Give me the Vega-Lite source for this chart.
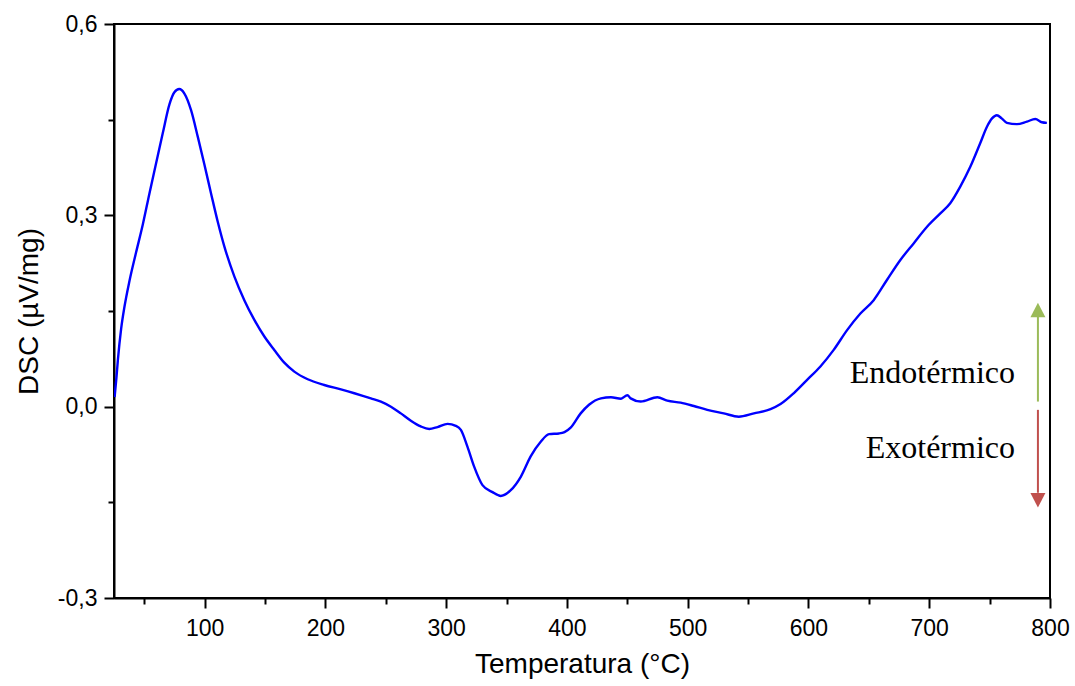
{
  "$schema": "https://vega.github.io/schema/vega-lite/v6.json",
  "width": 936,
  "height": 574,
  "autosize": {"type": "none"},
  "padding": {"left": 114, "top": 24, "right": 25, "bottom": 88},
  "background": "white",
  "config": {
    "view": {"stroke": "black", "strokeWidth": 2},
    "axis": {
      "labelFont": "Liberation Sans",
      "titleFont": "Liberation Sans",
      "labelFontSize": 23,
      "titleFontSize": 28,
      "domainColor": "black",
      "tickColor": "black",
      "labelColor": "black",
      "titleColor": "black",
      "grid": false,
      "titleFontWeight": "normal"
    }
  },
  "datasets": {
    "curve": [
      {"t": 25.5, "dsc": 0.015}, {"t": 27, "dsc": 0.045}, {"t": 28.2, "dsc": 0.073},
      {"t": 30.9, "dsc": 0.122}, {"t": 33.7, "dsc": 0.157}, {"t": 37.8, "dsc": 0.197},
      {"t": 43.3, "dsc": 0.242}, {"t": 48.9, "dsc": 0.286}, {"t": 54.3, "dsc": 0.334},
      {"t": 59.9, "dsc": 0.382}, {"t": 65.4, "dsc": 0.429}, {"t": 70.9, "dsc": 0.474},
      {"t": 75, "dsc": 0.493}, {"t": 79, "dsc": 0.498}, {"t": 83.3, "dsc": 0.491},
      {"t": 88.8, "dsc": 0.465}, {"t": 94.4, "dsc": 0.423}, {"t": 99.8, "dsc": 0.38},
      {"t": 105.4, "dsc": 0.334}, {"t": 110.9, "dsc": 0.29}, {"t": 116.4, "dsc": 0.251},
      {"t": 124.7, "dsc": 0.204}, {"t": 132.9, "dsc": 0.167}, {"t": 141.2, "dsc": 0.136},
      {"t": 149.5, "dsc": 0.11}, {"t": 157.7, "dsc": 0.089}, {"t": 166, "dsc": 0.069},
      {"t": 174.3, "dsc": 0.055}, {"t": 185.4, "dsc": 0.043}, {"t": 199.1, "dsc": 0.034},
      {"t": 212.9, "dsc": 0.027}, {"t": 224, "dsc": 0.021}, {"t": 231, "dsc": 0.017},
      {"t": 237.7, "dsc": 0.013}, {"t": 246, "dsc": 0.008}, {"t": 254.3, "dsc": 0.0},
      {"t": 262.5, "dsc": -0.0105}, {"t": 270.8, "dsc": -0.022}, {"t": 279, "dsc": -0.031},
      {"t": 286, "dsc": -0.035}, {"t": 292.9, "dsc": -0.032}, {"t": 301.2, "dsc": -0.027},
      {"t": 308, "dsc": -0.03}, {"t": 312.2, "dsc": -0.0365}, {"t": 317.7, "dsc": -0.063},
      {"t": 323.2, "dsc": -0.094}, {"t": 330.1, "dsc": -0.123}, {"t": 338.4, "dsc": -0.134},
      {"t": 345.2, "dsc": -0.14}, {"t": 353.5, "dsc": -0.131}, {"t": 361.8, "dsc": -0.11},
      {"t": 370, "dsc": -0.078}, {"t": 378.3, "dsc": -0.055}, {"t": 385.2, "dsc": -0.043},
      {"t": 393.5, "dsc": -0.042}, {"t": 398, "dsc": -0.04}, {"t": 403.1, "dsc": -0.033},
      {"t": 411.4, "dsc": -0.0105}, {"t": 418.3, "dsc": 0.003}, {"t": 428.2, "dsc": 0.013},
      {"t": 436.5, "dsc": 0.0147}, {"t": 444.8, "dsc": 0.0125}, {"t": 450.1, "dsc": 0.018},
      {"t": 452.8, "dsc": 0.013}, {"t": 461.1, "dsc": 0.008}, {"t": 474.9, "dsc": 0.0147},
      {"t": 483.1, "dsc": 0.0094}, {"t": 494.2, "dsc": 0.0063}, {"t": 505.1, "dsc": 0.001},
      {"t": 516.2, "dsc": -0.005}, {"t": 529.9, "dsc": -0.0105}, {"t": 542.3, "dsc": -0.0157},
      {"t": 554.8, "dsc": -0.0105}, {"t": 568.6, "dsc": -0.004}, {"t": 576.9, "dsc": 0.004},
      {"t": 587.8, "dsc": 0.021}, {"t": 598.9, "dsc": 0.042}, {"t": 609.9, "dsc": 0.063},
      {"t": 620.9, "dsc": 0.089}, {"t": 632, "dsc": 0.12}, {"t": 643, "dsc": 0.146},
      {"t": 654, "dsc": 0.167}, {"t": 665.1, "dsc": 0.199}, {"t": 676.1, "dsc": 0.23},
      {"t": 687.1, "dsc": 0.256}, {"t": 698.2, "dsc": 0.282}, {"t": 709.2, "dsc": 0.303},
      {"t": 717.4, "dsc": 0.319}, {"t": 725.7, "dsc": 0.345}, {"t": 734, "dsc": 0.376},
      {"t": 742.2, "dsc": 0.413}, {"t": 747.8, "dsc": 0.439}, {"t": 752, "dsc": 0.452},
      {"t": 756, "dsc": 0.457}, {"t": 760, "dsc": 0.452}, {"t": 764.3, "dsc": 0.445},
      {"t": 772.6, "dsc": 0.443}, {"t": 780.9, "dsc": 0.447}, {"t": 787.8, "dsc": 0.451},
      {"t": 793.3, "dsc": 0.446}, {"t": 797.4, "dsc": 0.445}
    ],
    "arrows": [
      {"x": 790, "from": 0.008, "to": 0.141, "tip": 0.163, "dir": "up"},
      {"x": 790, "from": -0.005, "to": -0.135, "tip": -0.158, "dir": "down"}
    ],
    "labels": [
      {"x": 771, "y": 0.0376, "label": "Endotérmico"},
      {"x": 771, "y": -0.081, "label": "Exotérmico"}
    ]
  },
  "resolve": {"axis": {"x": "independent", "y": "independent"}},
  "layer": [
    {
      "data": {"name": "curve"},
      "mark": {"type": "line", "color": "#0000FF", "strokeWidth": 2.4, "interpolate": "monotone", "clip": true},
      "encoding": {
        "x": {
          "field": "t", "type": "quantitative",
          "scale": {"domain": [25, 800], "nice": false, "zero": false},
          "axis": {
            "orient": "bottom",
            "values": [100, 200, 300, 400, 500, 600, 700, 800],
            "format": "d",
            "labelFontSize": 23, "labelPadding": 9, "labelFlush": false,
            "tickSize": 10, "tickWidth": 2, "domainWidth": 2,
            "title": "Temperatura (°C)", "titleFontSize": 28, "titlePadding": 10
          }
        },
        "y": {
          "field": "dsc", "type": "quantitative",
          "scale": {"domain": [-0.3, 0.6], "nice": false, "zero": false},
          "axis": {
            "orient": "left",
            "values": [-0.3, 0, 0.3, 0.6],
            "labelExpr": "replace(replace(format(datum.value, '.1f'), '.', ','), '\u2212', '-')",
            "labelFontSize": 23, "labelPadding": 7, "labelFlush": false,
            "tickSize": 10, "tickWidth": 2, "domainWidth": 2,
            "title": "DSC (µV/mg)", "titleFontSize": 28, "titlePadding": 14
          }
        }
      }
    },
    {
      "mark": {"type": "rule", "color": "black", "strokeWidth": 2},
      "encoding": {"y": {"datum": 0, "type": "quantitative", "axis": null}}
    },
    {
      "data": {"name": "arrows"},
      "mark": {"type": "rule", "strokeWidth": 2},
      "encoding": {
        "x": {"field": "x", "type": "quantitative", "axis": null},
        "y": {"field": "from", "type": "quantitative", "axis": null},
        "y2": {"field": "to"},
        "color": {"field": "dir", "type": "nominal", "scale": {"domain": ["up", "down"], "range": ["#9BBB59", "#C0504D"]}, "legend": null}
      }
    },
    {
      "data": {"name": "arrows"},
      "mark": {"type": "point", "filled": true, "opacity": 1, "size": 225, "strokeWidth": 0},
      "encoding": {
        "x": {"field": "x", "type": "quantitative", "axis": null},
        "y": {"field": "tip", "type": "quantitative", "axis": null},
        "shape": {"field": "dir", "type": "nominal", "scale": {"domain": ["up", "down"], "range": ["M0,0L-1,1.93L1,1.93Z", "M0,0L-1,-1.93L1,-1.93Z"]}, "legend": null},
        "color": {"field": "dir", "type": "nominal", "scale": {"domain": ["up", "down"], "range": ["#9BBB59", "#C0504D"]}, "legend": null}
      }
    },
    {
      "data": {"name": "labels"},
      "mark": {"type": "text", "font": "Liberation Serif", "fontSize": 32, "align": "right", "baseline": "alphabetic", "color": "black"},
      "encoding": {
        "x": {
          "field": "x", "type": "quantitative",
          "axis": {
            "orient": "bottom",
            "values": [50, 150, 250, 350, 450, 550, 650, 750],
            "labels": false, "domain": false, "tickSize": 6, "tickWidth": 2, "title": null
          }
        },
        "y": {
          "field": "y", "type": "quantitative",
          "axis": {
            "orient": "left",
            "values": [-0.15, 0.15, 0.45],
            "labels": false, "domain": false, "tickSize": 6, "tickWidth": 2, "title": null
          }
        },
        "text": {"field": "label"}
      }
    }
  ]
}
